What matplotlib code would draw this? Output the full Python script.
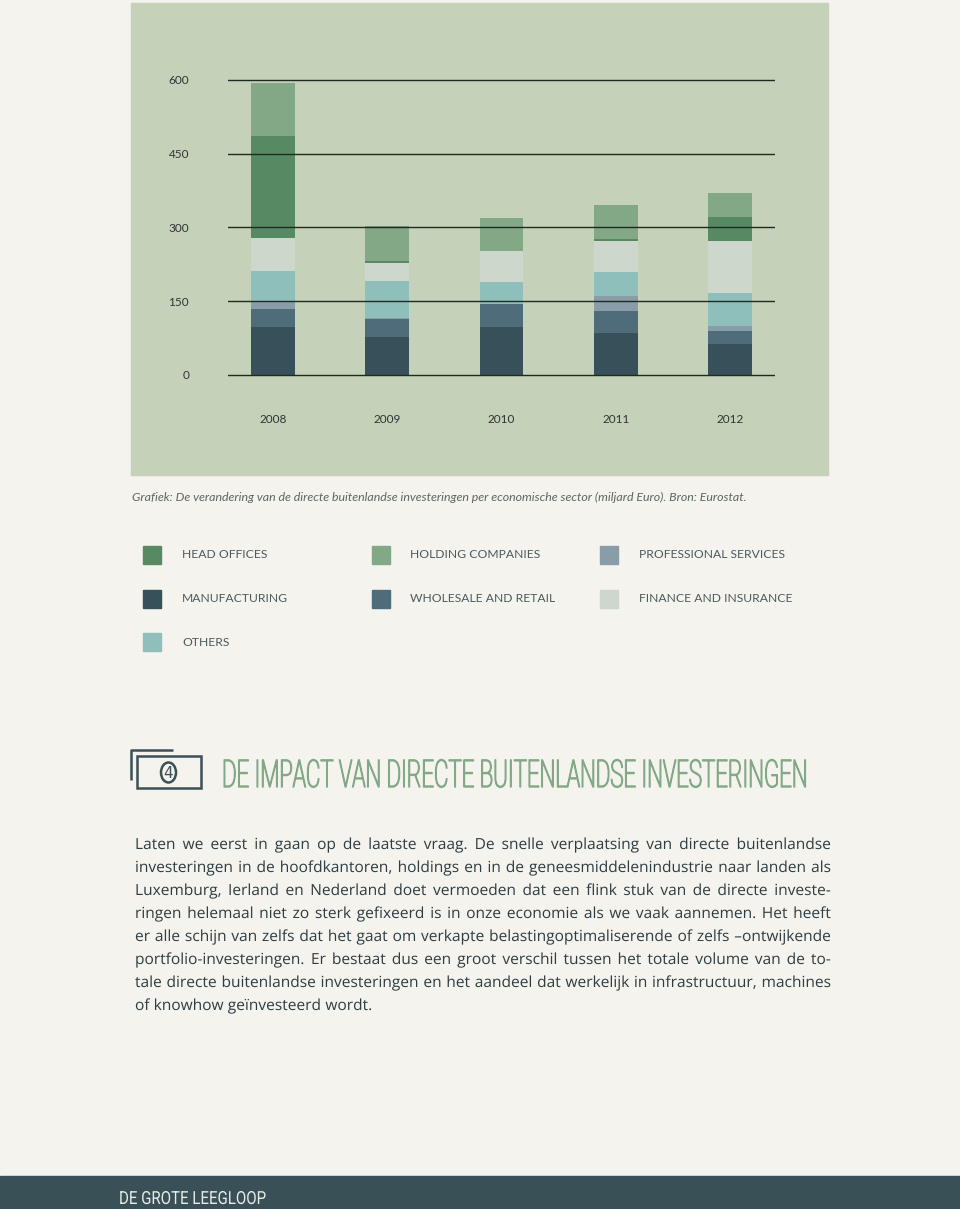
import matplotlib.pyplot as plt
from matplotlib.patches import Rectangle, Ellipse
from matplotlib.patheffects import AbstractPathEffect
from matplotlib.transforms import Affine2D, Bbox
from matplotlib.text import Text
import numpy as np

years = ['2008', '2009', '2010', '2011', '2012']

# miljard euro, stacked bottom -> top
manufacturing = [98, 77, 98, 85, 64]
wholesale = [36, 36, 46, 45, 26]
professional = [14, 3, 0, 31, 10]
others = [63, 76, 46, 49, 66]
finance = [67, 36, 63, 62, 106]
head_offices = [209, 4, 0, 4, 49]
holding = [107, 72, 67, 69, 50]

stack_names = ['MANUFACTURING', 'WHOLESALE AND RETAIL', 'PROFESSIONAL SERVICES', 'OTHERS',
               'FINANCE AND INSURANCE', 'HEAD OFFICES', 'HOLDING COMPANIES']
stack_values = [manufacturing, wholesale, professional, others, finance, head_offices, holding]
colors = {'HEAD OFFICES': '#578a63', 'HOLDING COMPANIES': '#82a886', 'PROFESSIONAL SERVICES': '#889da8',
          'MANUFACTURING': '#38505a', 'WHOLESALE AND RETAIL': '#4e6c7a', 'FINANCE AND INSURANCE': '#cdd7cb',
          'OTHERS': '#8ebfba'}
legend_order = ['HEAD OFFICES', 'HOLDING COMPANIES', 'PROFESSIONAL SERVICES',
                'MANUFACTURING', 'WHOLESALE AND RETAIL', 'FINANCE AND INSURANCE', 'OTHERS']
yticks = [0, 150, 300, 450, 600]

caption = 'Grafiek: De verandering van de directe buitenlandse investeringen per economische sector (miljard Euro). Bron: Eurostat.'
title = 'DE IMPACT VAN DIRECTE BUITENLANDSE INVESTERINGEN'
body = ['Laten we eerst in gaan op de laatste vraag. De snelle verplaatsing van directe buitenlandse',
        'investeringen in de hoofdkantoren, holdings en in de geneesmiddelenindustrie naar landen als',
        'Luxemburg, Ierland en Nederland doet vermoeden dat een flink stuk van de directe investe-',
        'ringen helemaal niet zo sterk gefixeerd is in onze economie als we vaak aannemen. Het heeft',
        'er alle schijn van zelfs dat het gaat om verkapte belastingoptimaliserende of zelfs \u2013ontwijkende',
        'portfolio-investeringen. Er bestaat dus een groot verschil tussen het totale volume van de to-',
        'tale directe buitenlandse investeringen en het aandeel dat werkelijk in infrastructuur, machines',
        'of knowhow ge\u00efnvesteerd wordt.']
footer = 'DE GROTE LEEGLOOP'


class Squeeze(AbstractPathEffect):
    # scale glyphs about their origin (no condensed / wide font installed)
    def __init__(self, sx, sy=1.0, extra=0.0):
        super().__init__()
        self.sx = sx
        self.sy = sy
        self.extra = extra

    def draw_path(self, renderer, gc, tpath, affine, rgbFace=None):
        m = affine.get_matrix().copy()
        m[0, :2] *= self.sx
        m[1, :2] *= self.sy
        if self.extra:
            gc0 = renderer.new_gc()
            gc0.copy_properties(gc)
            gc0.set_linewidth(self.extra)
            gc0.set_foreground(rgbFace)
            renderer.draw_path(gc0, tpath, Affine2D(m), rgbFace)
        else:
            renderer.draw_path(gc, tpath, Affine2D(m), rgbFace)


class ScaledText(Text):
    # report the scaled extent so the layout matches what is drawn
    sx = 1.0
    sy = 1.0

    def get_window_extent(self, renderer=None, dpi=None):
        bb = super().get_window_extent(renderer, dpi)
        return Bbox.from_extents(bb.x0, bb.y0, bb.x0 + bb.width * self.sx, bb.y0 + bb.height * self.sy)


W, H = 960, 1209
fig = plt.figure(figsize=(W / 100, H / 100), dpi=100)
fig.patch.set_facecolor('#f4f3ee')
renderer = fig.canvas.get_renderer()

# overlay in pixel coordinates for page decoration
bg = fig.add_axes([0, 0, 1, 1])
bg.set_xlim(0, W)
bg.set_ylim(H, 0)
bg.axis('off')
bg.add_patch(Rectangle((131, 3), 697, 472, color='#c5d1b8', zorder=0))

# chart axes, placed in pixels
y0_px, per_unit = 375, 295 / 600
ymin, ymax = -20, 640
left, right = 228, 775
top_px = y0_px - ymax * per_unit
bot_px = y0_px - ymin * per_unit
ax = fig.add_axes([left / W, 1 - bot_px / H, (right - left) / W, (bot_px - top_px) / H])
ax.set_facecolor('none')

x = np.arange(len(years))
bottom = np.zeros(len(years))
for name, vals in zip(stack_names, stack_values):
    ax.bar(x, vals, bottom=bottom, width=0.385, color=colors[name], zorder=1)
    bottom += np.array(vals)

ax.set_xlim(-0.394, 4.394)
ax.set_ylim(ymin, ymax)
ax.set_yticks(yticks)
ax.set_yticklabels([str(v) for v in yticks])
ax.set_xticks(x)
ax.set_xticklabels(years)
ax.set_axisbelow(False)
ax.yaxis.grid(True, color='#1f2b22', linewidth=1.0)
ax.tick_params(axis='y', length=0, pad=28, labelsize=8.5, labelcolor='#333333')
ax.tick_params(axis='x', length=0, pad=21, labelsize=8.5, labelcolor='#333333')
for lab in ax.get_xticklabels() + ax.get_yticklabels():
    lab.set_family('Lato')
for s in ax.spines.values():
    s.set_visible(False)

# caption
bg.text(132, 501, caption, fontsize=8.9, family='Lato', style='italic',
        color='#5b6663', va='baseline', ha='left')

# legend
for i, name in enumerate(legend_order):
    r, c = divmod(i, 3)
    cx = 143 + c * 228.5
    cy = 555 + r * 43.5
    bg.add_patch(Rectangle((cx, cy - 9), 18, 18, color=colors[name]))
    bg.text(cx + 39, cy, name, fontsize=8.7, family='Lato', color='#4a5a5e', va='center', ha='left')

# heading icon
icon = '#3d5055'
bg.plot([173, 131, 131], [749.5, 749.5, 780], color=icon, lw=1.8, solid_capstyle='butt')
bg.add_patch(Rectangle((137, 756), 64, 32, fill=False, ec=icon, lw=1.8))
bg.add_patch(Ellipse((168.5, 772.5), 15, 20, fill=False, ec=icon, lw=1.8))
bg.text(168.5, 773, '4', fontsize=11, family='DejaVu Sans', color=icon, ha='center', va='center')


def scaled_text(xp, yp, s, sx=None, width=None, sy=1.0, extra=0.0, **kw):
    t = ScaledText(xp, yp, s, va='baseline', ha='left', transform=bg.transData, **kw)
    bg.add_artist(t)
    w = Text.get_window_extent(t, renderer).width
    if sx is None:
        sx = width / w
    t.sx, t.sy = sx, sy
    t.set_path_effects([Squeeze(sx, sy, extra)])
    return t, w * sx


# set small, then stretched up to the tall condensed look of the original
scaled_text(222, 787, title, width=586, sy=27.5 / 16, extra=1.0, fontsize=16, family='Roboto',
            weight='light', color='#82a886')

# body text, justified; glyphs widened a bit to match the wider original face
fs = 11.0
body_kw = dict(fontsize=fs, family='Open Sans', color='#2e3d42')
probe = bg.text(0, 0, 'n n', **body_kw)
probe2 = bg.text(0, 0, 'nn', **body_kw)
space_w = probe.get_window_extent(renderer).width - probe2.get_window_extent(renderer).width
probe.remove()
probe2.remove()

natural = []
for line in body[:-1]:
    t = bg.text(0, 0, line, **body_kw)
    natural.append(t.get_window_extent(renderer).width)
    t.remove()
body_sx = min(1.12, 690 / max(natural))

lines_y = [849 + 23 * k for k in range(len(body))]
for k, line in enumerate(body):
    words = line.split(' ')
    placed = [scaled_text(0, lines_y[k], w_, sx=body_sx, **body_kw) for w_ in words]
    widths = [p[1] for p in placed]
    if k == len(body) - 1:
        gap = space_w * body_sx
    else:
        gap = (831 - 135 - sum(widths)) / (len(words) - 1)
    xpos = 135
    for (t, w_) in placed:
        t.set_x(xpos)
        xpos += w_ + gap

# footer
bg.add_patch(Rectangle((0, 1176), W, H - 1176, color='#3a5057'))
scaled_text(119, 1204, footer, width=146, fontsize=13, family='Roboto', color='#e6ece8')

fig.savefig('out.png', dpi=100, facecolor=fig.get_facecolor())
